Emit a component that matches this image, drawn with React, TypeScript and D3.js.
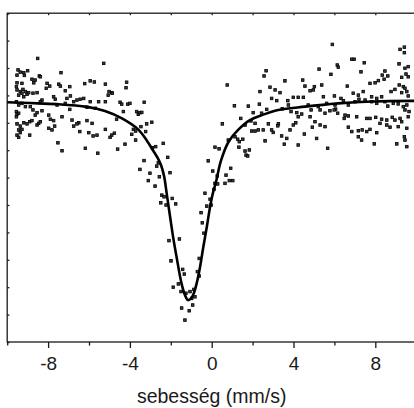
// Mössbauer spectrum: measured points with fitted singlet line
import { useRef, useEffect } from "react";
import * as d3 from "d3";

// Velocity axis ticks (mm/s)
const xMajorTicks = [-8, -4, 0, 4, 8];
const xMinorTicks = [-10, -6, -2, 2, 6, 10];
// Transmission axis ticks (arbitrary units, unlabeled)
const yTicks = d3.range(0, 13);

// Measured points: [velocity mm/s, transmission a.u.]
const spectrum: [number, number][] = [
  [-8.51, 10.35], [-5.28, 10.17], [-9.47, 9.93], [-9.36, 9.85], [-9.19, 9.83], [-9.0, 9.9],
  [-9.52, 9.74], [-9.16, 9.73], [-8.43, 9.71], [-8.38, 9.68], [-8.79, 9.59], [-8.7, 9.46],
  [-8.63, 9.56], [-7.37, 9.83], [-5.94, 9.53], [-5.74, 9.49], [-6.21, 9.43], [-5.2, 9.41],
  [-9.52, 9.46], [-9.28, 9.44], [-9.55, 9.32], [-8.05, 9.44], [-7.92, 9.34], [-8.09, 9.26],
  [-7.48, 9.41], [-7.4, 9.34], [-6.94, 9.32], [-7.16, 9.17], [-9.52, 9.2], [-9.36, 9.14],
  [-9.23, 9.22], [-9.11, 9.14], [-9.28, 9.08], [-9.03, 9.04], [-9.44, 9.01], [-9.19, 8.95],
  [-8.95, 9.1], [-8.74, 9.08], [-8.54, 9.1], [-8.3, 8.83], [-8.38, 8.77], [-7.73, 8.95],
  [-7.65, 8.86], [-7.08, 8.89], [-6.91, 8.98], [-6.75, 8.77], [-6.59, 8.83], [-6.43, 8.86],
  [-6.26, 8.89], [-5.94, 8.77], [-5.53, 8.77], [-5.2, 8.77], [-9.55, 8.77], [-9.44, 8.65],
  [-9.28, 8.71], [-9.11, 8.59], [-8.87, 8.59], [-7.56, 8.65], [-7.16, 8.71], [-6.94, 8.49],
  [-6.1, 8.57], [-5.69, 8.53], [-9.55, 8.41], [-9.52, 8.32], [-9.44, 8.35], [-9.55, 8.22],
  [-8.74, 8.47], [-8.54, 8.37], [-8.3, 8.44], [-8.63, 8.28], [-7.97, 8.28], [-7.89, 8.13],
  [-7.73, 8.08], [-7.32, 8.22], [-6.83, 8.1], [-6.5, 8.0], [-6.75, 7.88], [-6.59, 7.96],
  [-6.1, 8.08], [-5.85, 7.98], [-9.52, 7.96], [-9.36, 7.88], [-9.19, 8.0], [-9.03, 7.96],
  [-8.9, 8.04], [-8.79, 8.08], [-8.54, 7.92], [-8.46, 7.98], [-8.38, 8.04], [-9.44, 7.74],
  [-9.28, 7.76], [-9.36, 7.64], [-9.52, 7.55], [-9.44, 7.47], [-8.9, 7.55], [-7.97, 7.8],
  [-7.81, 7.74], [-7.68, 7.88], [-6.45, 7.68], [-6.01, 7.64], [-5.8, 7.52], [-5.61, 7.55],
  [-5.2, 7.76], [-7.52, 7.27], [-7.32, 6.98], [-6.18, 7.07], [-5.57, 6.89],
  [-4.16, 9.48], [-4.19, 9.28], [-5.02, 9.14], [-4.89, 9.1], [-5.06, 9.01], [-4.86, 9.08],
  [-4.48, 8.75], [-4.4, 8.68], [-4.11, 8.68], [-4.0, 8.71], [-3.3, 8.75], [-4.32, 8.41],
  [-3.67, 8.41], [-3.59, 8.31], [-3.51, 8.37], [-3.42, 8.38], [-4.65, 8.13], [-3.18, 7.96],
  [-2.93, 8.02], [-3.46, 7.86], [-4.76, 7.62], [-4.89, 7.55], [-4.97, 7.47], [-3.91, 7.58],
  [-3.83, 7.76], [-3.72, 7.7], [-3.23, 7.68], [-3.72, 7.37], [-4.24, 7.22], [-4.6, 7.04],
  [-2.9, 7.09], [-2.74, 7.13], [-2.37, 7.25], [-2.15, 6.74],
  [2.66, 9.9], [2.56, 9.71], [0.76, 9.38], [3.58, 9.53], [4.45, 9.56], [2.85, 9.3],
  [3.1, 9.2], [3.34, 9.1], [2.36, 9.14], [2.93, 8.89], [3.18, 8.81], [3.72, 8.81],
  [3.99, 8.93], [4.23, 8.93], [4.48, 8.93], [1.11, 8.62], [1.79, 8.61], [2.33, 8.68],
  [2.69, 8.49], [3.45, 8.51], [3.75, 8.65], [2.03, 8.37], [2.44, 8.35], [3.88, 8.41],
  [4.16, 8.37], [4.4, 8.32], [4.23, 8.22], [1.42, 8.16], [1.92, 8.07], [2.12, 7.98],
  [0.52, 7.96], [1.63, 7.92], [2.77, 7.96], [3.26, 7.96], [3.23, 7.89], [3.99, 7.92],
  [4.11, 8.0], [3.83, 7.74], [1.96, 7.7], [2.12, 7.7], [2.28, 7.74], [2.52, 7.74],
  [3.01, 7.65], [2.93, 7.74], [1.14, 7.49], [1.27, 7.4], [1.52, 7.4], [1.35, 7.31],
  [0.81, 7.37], [3.42, 7.52], [3.67, 7.43], [2.61, 7.34], [4.53, 7.59], [3.55, 7.22],
  [4.23, 7.19], [0.16, 7.11], [0.36, 7.05], [1.33, 7.11], [1.63, 6.97], [1.84, 7.01],
  [1.68, 6.82], [1.76, 6.79],
  [-3.31, 6.62], [-3.51, 6.3], [-2.61, 6.54], [-2.69, 6.42], [-3.02, 6.16], [-3.1, 5.89],
  [-2.77, 5.69], [-2.56, 6.03], [-2.04, 6.18], [-2.44, 5.36], [-2.33, 5.3], [-2.49, 5.08],
  [-2.23, 5.0], [-1.93, 5.24], [-1.76, 5.04], [-0.17, 6.61], [0.05, 6.24], [0.27, 6.06],
  [0.16, 5.79], [0.29, 5.77], [0.7, 6.09], [0.93, 6.34], [0.86, 5.89], [0.65, 5.79],
  [1.03, 5.89], [0.11, 5.57], [-0.33, 5.43], [-0.08, 5.21], [-0.24, 4.96], [-0.03, 5.0],
  [-0.52, 4.72], [-0.46, 4.35], [-0.38, 3.97], [-2.09, 3.7], [-1.58, 3.76], [-1.99, 2.96],
  [-0.61, 3.05], [-1.42, 2.65], [-1.34, 2.48], [-0.7, 2.57], [-0.61, 2.41], [-1.63, 2.12],
  [-1.88, 2.0], [-1.5, 1.84], [-1.26, 1.78], [-1.06, 1.84], [-0.87, 1.92], [-0.82, 1.65],
  [-0.98, 1.59], [-1.47, 1.24], [-1.1, 1.14], [-0.93, 1.35], [-1.31, 0.8],
  [5.9, 10.86], [9.42, 10.76], [9.21, 10.68], [9.42, 10.56], [6.85, 10.32], [6.97, 10.32],
  [7.46, 10.19], [6.14, 10.11], [6.19, 10.03], [5.25, 9.96], [9.16, 10.15], [7.3, 9.86],
  [8.47, 9.89], [9.45, 9.99], [9.61, 10.05], [5.83, 9.77], [8.34, 9.74], [9.29, 9.66],
  [9.5, 9.78], [9.61, 9.68], [4.56, 9.34], [5.02, 9.32], [5.38, 9.38], [6.63, 9.34],
  [7.74, 9.44], [7.99, 9.46], [8.15, 9.54], [8.43, 9.59], [8.61, 9.71], [4.81, 9.17],
  [4.97, 9.2], [5.46, 8.95], [6.0, 8.98], [6.32, 8.89], [6.92, 9.08], [7.17, 9.01],
  [7.41, 9.14], [7.82, 8.95], [8.07, 8.89], [8.31, 8.95], [8.77, 9.14], [8.96, 9.22],
  [9.17, 9.38], [9.37, 9.32], [9.45, 9.26], [9.54, 9.14], [9.29, 9.1], [9.61, 8.98],
  [4.72, 8.65], [5.21, 8.59], [5.62, 8.71], [6.03, 8.65], [6.06, 8.5], [6.44, 8.8],
  [6.68, 8.65], [7.01, 8.77], [7.2, 8.86], [7.5, 8.83], [7.82, 8.77], [8.07, 8.71],
  [8.47, 8.77], [8.61, 8.61], [8.88, 8.71], [9.12, 8.69], [9.37, 8.59], [9.54, 8.65],
  [9.45, 8.47], [9.65, 8.41], [4.86, 8.47], [5.3, 8.47], [5.54, 8.35], [5.78, 8.44],
  [5.99, 8.47], [6.16, 8.35], [6.52, 8.28], [6.48, 8.16], [6.68, 8.25], [7.09, 8.22],
  [7.58, 8.16], [7.74, 8.16], [8.02, 8.2], [8.31, 8.13], [8.56, 8.1], [8.83, 8.2],
  [8.96, 8.1], [9.21, 8.16], [9.29, 8.04], [9.61, 8.22], [4.81, 8.22], [5.05, 8.04],
  [4.92, 7.84], [5.3, 7.92], [5.54, 7.86], [6.68, 7.84], [6.85, 7.68], [7.17, 7.71],
  [7.36, 7.74], [7.58, 7.68], [7.74, 7.76], [8.07, 7.64], [8.23, 7.98], [8.56, 7.92],
  [8.72, 7.84], [9.12, 7.86], [9.54, 7.8], [9.42, 7.49], [9.45, 7.37], [5.13, 7.43],
  [5.67, 7.07], [7.17, 7.49], [7.33, 7.37], [7.95, 7.23], [9.05, 7.23], [9.54, 7.13],
];

// Fitted line: [velocity mm/s, transmission a.u.]
const fitCurve: [number, number][] = [
  [-10.0, 8.75], [-8.89, 8.72], [-7.56, 8.68], [-6.1, 8.58], [-5.22, 8.43], [-4.39, 8.16],
  [-3.6, 7.76], [-3.16, 7.34], [-2.85, 6.97], [-2.63, 6.7], [-2.48, 6.46], [-2.33, 6.06],
  [-2.19, 5.36], [-2.04, 4.6], [-1.88, 3.8], [-1.71, 3.07], [-1.48, 2.15], [-1.31, 1.72],
  [-1.16, 1.53], [-1.01, 1.59], [-0.87, 1.79], [-0.72, 2.19], [-0.57, 2.74], [-0.41, 3.47],
  [-0.24, 4.2], [-0.08, 4.93], [0.06, 5.44], [0.21, 5.84], [0.45, 6.61], [0.82, 7.3],
  [1.29, 7.74], [1.87, 8.1], [2.46, 8.28], [3.14, 8.45], [4.56, 8.59], [6.18, 8.71],
  [7.84, 8.78], [10.0, 8.8],
];

export default function App() {
  const ref = useRef<SVGSVGElement>(null);

  useEffect(() => {
    const svg = d3.select(ref.current);
    svg.selectAll("*").remove();

    const width = 414;
    const height = 408;
    const margin = { top: 13.2, left: 7.2, bottom: 66 };
    // plot runs past the right edge of the picture, as in the original
    const innerW = 409;
    const innerH = height - margin.top - margin.bottom;

    const x = d3.scaleLinear().domain([-10, 10]).range([margin.left, margin.left + innerW]);
    const y = d3.scaleLinear().domain([0, 12]).range([margin.top + innerH, margin.top]);

    const ink = "#1a1a1a";
    const font = "'Liberation Sans', Arial, Helvetica, sans-serif";

    // bottom axis: labelled major ticks and short minor ticks, all outward
    const bottom = svg.append("g").attr("transform", `translate(0,${y(0)})`);
    bottom
      .call(
        d3.axisBottom(x)
          .tickValues(xMajorTicks)
          .tickSize(6)
          .tickSizeOuter(0)
          .tickPadding(9)
          .tickFormat((d) => String(d))
      )
      .call((g) => g.select(".domain").remove());
    bottom.selectAll("text").attr("font-family", font).attr("font-size", 19).attr("fill", ink);
    svg
      .append("g")
      .attr("transform", `translate(0,${y(0)})`)
      .call(d3.axisBottom(x).tickValues(xMinorTicks).tickSize(3.6).tickSizeOuter(0).tickFormat(() => ""))
      .call((g) => g.select(".domain").remove());

    // top axis: small inward ticks
    svg
      .append("g")
      .attr("transform", `translate(0,${y(12)})`)
      .call(d3.axisTop(x).tickValues([...xMajorTicks, ...xMinorTicks]).tickSize(-2).tickSizeOuter(0).tickFormat(() => ""))
      .call((g) => g.select(".domain").remove());

    // left axis: inward ticks, no labels
    svg
      .append("g")
      .attr("transform", `translate(${x(-10)},0)`)
      .call(d3.axisLeft(y).tickValues(yTicks).tickSize(-2.2).tickSizeOuter(0).tickFormat(() => ""))
      .call((g) => g.select(".domain").remove());

    svg.selectAll(".tick line").attr("stroke", ink).attr("stroke-width", 1.3);

    // frame
    svg
      .append("rect")
      .attr("x", x(-10))
      .attr("y", y(12))
      .attr("width", x(10) - x(-10))
      .attr("height", y(0) - y(12))
      .attr("fill", "none")
      .attr("stroke", ink)
      .attr("stroke-width", 1.3);

    // measured points as small dark squares
    const s = 2.6;
    svg
      .append("g")
      .selectAll("rect")
      .data(spectrum)
      .join("rect")
      .attr("x", (d) => x(d[0]) - s / 2)
      .attr("y", (d) => y(d[1]) - s / 2)
      .attr("width", s)
      .attr("height", s)
      .attr("fill", "#3a3a3a")
      .attr("stroke", "#000")
      .attr("stroke-width", 0.8);

    // fitted line
    const line = d3
      .line<[number, number]>()
      .x((d) => x(d[0]))
      .y((d) => y(d[1]))
      .curve(d3.curveCatmullRom.alpha(0.5));
    svg
      .append("path")
      .datum(fitCurve)
      .attr("d", line)
      .attr("fill", "none")
      .attr("stroke", "#000")
      .attr("stroke-width", 2.6)
      .attr("stroke-linejoin", "round");

    // axis title
    svg
      .append("text")
      .attr("x", x(0))
      .attr("y", 403)
      .attr("text-anchor", "middle")
      .attr("font-family", font)
      .attr("font-size", 19.5)
      .attr("fill", ink)
      .text("sebesség (mm/s)");
  }, []);

  return (
    <svg
      ref={ref}
      width={414}
      height={408}
      style={{ position: "absolute", left: 0, top: 0, overflow: "hidden", background: "#fff" }}
    ></svg>
  );
}
